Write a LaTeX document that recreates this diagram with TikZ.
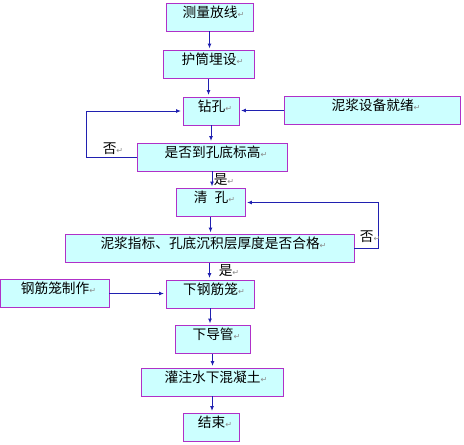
\documentclass[tikz,border=0pt]{standalone}
\usepackage{fontspec}
\setmainfont{Noto Sans CJK SC}
\newfontfamily\symfont{DejaVu Sans}
\usetikzlibrary{arrows.meta}
\definecolor{flowfill}{HTML}{CCFFFF}
\definecolor{flowedge}{HTML}{B030C8}
\definecolor{flowline}{HTML}{2020B0}
\definecolor{parmark}{HTML}{8A8A8A}
\newcommand{\pmark}{{\symfont\fontsize{8}{8}\selectfont\textcolor{parmark}{↵}}}

\begin{document}
\begin{tikzpicture}[x=1pt, y=-1pt,
        stepbox/.style={draw=flowedge, fill=flowfill, line width=0.9pt, inner sep=0pt,
          minimum height=28pt, text height=14pt, text depth=14pt,
          font=\fontsize{13.7}{16}\selectfont,
          execute at begin node=\hspace*{8pt}},
        flow/.style={draw=flowline, line width=1pt, -{Latex[length=5pt,width=4pt]},
          shorten >=1.5pt},
        tag/.style={inner sep=0pt, font=\fontsize{13.7}{16}\selectfont}]
      \useasboundingbox (0,0) rectangle (464,445);

      % main line of steps
      \node[stepbox, minimum width=87pt]  (survey) at (209.5,17)  {测量放线\pmark};
      \node[stepbox, minimum width=91pt]  (casing) at (208.5,64.5){护筒埋设\pmark};
      \node[stepbox, minimum width=56pt]  (drill)  at (211,111)   {钻孔\pmark};
      \node[stepbox, minimum width=150pt] (depth)  at (212,157)   {是否到孔底标高\pmark};
      \node[stepbox, minimum width=69pt]  (clean)  at (210.5,202.5){清\hspace{7pt}孔\pmark};
      \node[stepbox, minimum width=289pt] (check)  at (209.5,248.5){泥浆指标、孔底沉积层厚度是否合格\pmark};
      \node[stepbox, minimum width=88pt]  (lower)  at (210,294)   {下钢筋笼\pmark};
      \node[stepbox, minimum width=75pt]  (pipe)   at (212.5,339.5){下导管\pmark};
      \node[stepbox, minimum width=142pt] (pour)   at (212,382)   {灌注水下混凝土\pmark};
      \node[stepbox, minimum width=56pt]  (finish) at (211,427)   {结束\pmark};

      % side inputs
      \node[stepbox, minimum width=176pt] (mud)    at (372,110.5) {泥浆设备就绪\pmark};
      \node[stepbox, minimum width=109pt] (cage)   at (54.5,293.5){钢筋笼制作\pmark};

      \draw[flow] (survey.south) -- (survey.south |- casing.north);
      \draw[flow] (casing.south) -- (casing.south |- drill.north);
      \draw[flow] (drill.south)  -- (drill.south |- depth.north);
      \draw[flow] (depth.south)  -- (depth.south |- clean.north);
      \draw[flow] (clean.south)  -- (clean.south |- check.north);
      \draw[flow] (check.south)  -- (check.south |- lower.north);
      \draw[flow] (lower.south)  -- (lower.south |- pipe.north);
      \draw[flow] (pipe.south)   -- (pipe.south |- pour.north);
      \draw[flow] (pour.south)   -- (pour.south |- finish.north);

      \draw[flow] (mud.west)  -- (mud.west -| drill.east);
      \draw[flow] (cage.east) -- (cage.east -| lower.west);

      % loops back when the answer is no
      \draw[flow] (depth.west) -- ++(-50,0) |- (drill.west);
      \draw[flow] (check.east) -- ++(24,0) |- (clean.east);

      \node[tag] (no1)  at (113,149) {否\pmark};
      \node[tag] (no2)  at (370,237) {否\pmark};
      \node[tag] (yes1) at (224,180) {是\pmark};
      \node[tag] (yes2) at (229,271) {是\pmark};
    \end{tikzpicture}
\end{document}
